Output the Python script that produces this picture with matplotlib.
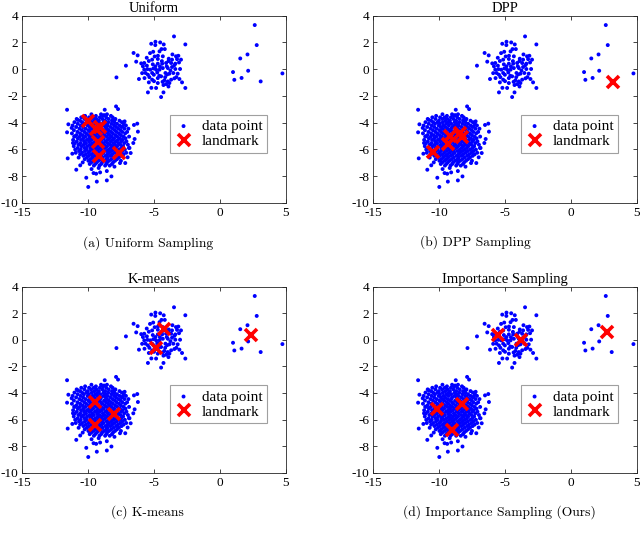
import matplotlib.pyplot as plt

plt.rcParams['font.family'] = 'Liberation Serif'
plt.rcParams['axes.unicode_minus'] = False

# data points (same cloud in all four panels)
small_cluster = [
    (2.65, 3.3), (2.8, 1.8), (2.1, 1.1), (1.55, 0.8), (2.15, -0.12),
    (1.0, -0.22), (1.1, -0.8), (1.65, -0.66), (3.1, -0.92), (4.75, -0.32),
]

mid_cluster = [
    (-3.48, 2.45), (-2.62, 1.85), (-4.89, 2.05), (-5.21, 1.90), (-4.53, 2.00),
    (-4.43, 1.50), (-4.18, 1.50), (-5.06, 1.30), (-6.55, 1.21), (-6.24, 1.03),
    (-7.13, 0.26), (-7.85, -0.62), (-6.35, 0.56), (-5.97, 0.43), (-5.74, 0.46),
    (-5.39, 0.61), (-5.14, 0.71), (-4.71, 0.76), (-4.33, 0.96), (-3.88, 0.78),
    (-3.63, 0.71), (-3.33, 0.96), (-3.15, 1.00), (-2.95, 0.71), (-3.38, 0.41),
    (-3.70, 0.46), (-4.08, 0.46), (-4.38, 0.41), (-4.71, 0.41), (-5.09, 0.36),
    (-5.54, 0.26), (-5.84, 0.21), (-5.74, -0.04), (-5.64, -0.29), (-5.46, -0.42),
    (-5.14, -0.29), (-4.84, -0.04), (-4.58, -0.04), (-4.33, 0.08), (-3.95, 0.08),
    (-3.63, 0.16), (-3.38, 0.01), (-3.02, 0.01), (-5.72, -0.67), (-5.39, -0.99),
    (-5.14, -0.79), (-4.71, -0.67), (-4.46, -0.54), (-4.21, -0.84), (-3.95, -0.92),
    (-3.70, -0.79), (-3.45, -0.69), (-3.07, -0.74), (-2.87, -0.99), (-2.62, -1.41),
    (-6.14, -0.74), (-5.46, -1.74), (-4.28, -1.74), (-4.46, -2.09), (-4.84, -1.41),
    (-4.08, -1.12), (-3.83, -1.04), (-4.28, -1.19), (-4.71, -1.04), (-5.01, -0.42),
    (-5.29, -0.04), (-4.89, 0.21), (-4.13, -0.29), (-3.83, -0.34), (-3.53, -0.29),
    (-3.20, -0.34), (-4.58, 1.33), (-4.26, 1.85), (-4.03, 0.21), (-4.9, 1.8),
    (-5.5, 0.0), (-3.9, 0.6), (-4.4, 0.6), (-5.0, -0.9), (-3.3, -0.6),
    (-4.6, -0.5), (-3.6, 1.1), (-5.3, 1.2), (-4.0, -0.4), (-5.9, -0.3),
    (-3.1, 0.5), (-4.7, 1.0), (-3.9, -1.3), (-5.2, -1.4), (-4.95, 0.95),
    (-5.55, 0.85), (-3.45, 0.3), (-4.15, -0.6), (-5.35, -0.6), (-3.75, -0.1),
    (-4.55, 0.2), (-5.05, 0.05), (-3.25, 0.75), (-4.35, -0.95), (-4.75, -0.25),
]

big_outer = [
    (-11.60, -3.04), (-7.88, -2.79), (-7.73, -2.99), (-8.74, -3.04), (-8.79, -3.44),
    (-11.50, -4.13), (-11.60, -4.73), (-6.27, -4.08), (-6.52, -4.18), (-6.22, -4.68),
    (-6.47, -5.23), (-6.57, -5.53), (-6.77, -6.28), (-7.18, -7.03), (-7.58, -7.03),
    (-11.55, -6.68), (-11.20, -6.33), (-10.90, -7.53), (-10.14, -8.13), (-9.74, -7.48),
    (-9.59, -7.78), (-9.39, -7.83), (-9.99, -8.82), (-8.58, -8.33), (-8.23, -8.03),
    (-9.34, -8.42), (-8.58, -7.63), (-9.09, -7.73), (-11.0, -5.03), (-11.15, -5.53),
    (-7.23, -3.91), (-7.38, -4.28), (-7.98, -3.78), (-10.8, -3.8), (-11.25, -4.4),
    (-6.9, -5.9), (-7.0, -6.6), (-10.6, -7.2), (-9.2, -7.4), (-8.0, -7.3),
]

# dense core of the big cluster, one row of x values per y level
big_core_rows = {
    -3.38: [-9.75, -9.02, -8.57],
    -3.5: [-10.23, -9.41, -8.88, -8.27],
    -3.61: [-10.52, -9.93, -9.58, -9.11, -8.63, -8.14],
    -3.73: [-10.87, -10.28, -9.77, -9.37, -8.92, -8.44, -7.93],
    -3.86: [-10.61, -10.02, -9.53, -9.18, -8.71, -8.19, -7.62],
    -3.97: [-11.04, -10.46, -10.13, -9.72, -9.28, -8.83, -8.47, -8.01, -7.44],
    -4.09: [-10.79, -10.32, -9.94, -9.47, -9.08, -8.66, -8.23, -7.81, -7.29],
    -4.22: [-11.18, -10.57, -10.04, -9.68, -9.27, -8.84, -8.52, -8.03, -7.61, -7.13],
    -4.33: [-10.91, -10.38, -9.88, -9.54, -9.01, -8.68, -8.31, -7.88, -7.46],
    -4.46: [-10.66, -10.19, -9.76, -9.36, -9.09, -8.57, -8.13, -7.71, -7.24, -6.94],
    -4.57: [-11.08, -10.47, -9.98, -9.61, -9.19, -8.79, -8.42, -7.97, -7.53],
    -4.7: [-10.81, -10.29, -9.86, -9.43, -9.02, -8.64, -8.26, -7.84, -7.41, -7.04],
    -4.81: [-11.23, -10.61, -10.14, -9.71, -9.29, -8.91, -8.49, -8.12, -7.66, -7.19],
    -4.94: [-10.89, -10.41, -9.96, -9.53, -9.16, -8.74, -8.36, -7.94, -7.51],
    -5.05: [-11.06, -10.63, -10.21, -9.79, -9.39, -9.01, -8.58, -8.21, -7.78, -7.31, -6.89],
    -5.18: [-10.78, -10.36, -9.93, -9.62, -9.18, -8.81, -8.39, -8.02, -7.58, -7.16],
    -5.3: [-11.14, -10.54, -10.09, -9.76, -9.33, -8.96, -8.54, -8.16, -7.74, -7.38],
    -5.41: [-10.86, -10.31, -9.91, -9.48, -9.12, -8.69, -8.29, -7.91, -7.49, -7.09],
    -5.54: [-11.01, -10.59, -10.16, -9.69, -9.31, -8.88, -8.51, -8.09, -7.71, -7.26],
    -5.66: [-10.74, -10.34, -9.89, -9.56, -9.14, -8.76, -8.33, -7.96, -7.54, -6.98],
    -5.77: [-11.09, -10.51, -10.08, -9.72, -9.28, -8.94, -8.56, -8.14, -7.79, -7.34],
    -5.9: [-10.79, -10.28, -9.84, -9.46, -9.06, -8.71, -8.28, -7.89, -7.48, -6.86],
    -6.02: [-10.98, -10.56, -10.11, -9.64, -9.24, -8.86, -8.44, -8.06, -7.63, -7.21],
    -6.13: [-10.69, -10.24, -9.86, -9.41, -9.01, -8.59, -8.21, -7.82, -7.39],
    -6.26: [-10.94, -10.46, -9.99, -9.61, -9.19, -8.82, -8.41, -7.99, -7.56, -7.11],
    -6.38: [-10.61, -10.18, -9.74, -9.36, -8.96, -8.53, -8.17, -7.73, -7.31],
    -6.49: [-10.36, -9.94, -9.51, -9.11, -8.68, -8.31, -7.88, -7.46],
    -6.62: [-10.72, -10.09, -9.69, -9.31, -8.89, -8.52, -8.08, -7.66],
    -6.74: [-10.26, -9.84, -9.44, -9.04, -8.61, -8.24, -7.81],
    -6.86: [-9.98, -9.59, -9.21, -8.79, -8.41, -7.96, -7.51],
    -6.98: [-10.41, -9.76, -9.34, -8.94, -8.56, -8.11],
    -7.1: [-9.88, -9.46, -9.01, -8.62, -8.19],
    -7.22: [-9.56, -9.14, -8.71, -8.36],
}

# landmarks picked by each method
uniform_lm = [(-10.0, -3.9), (-9.4, -4.5), (-9.1, -4.35), (-9.25, -5.45),
              (-9.15, -6.5), (-7.65, -6.3)]
dpp_lm = [(-10.45, -6.2), (-9.3, -5.6), (-9.15, -5.0), (-8.45, -4.8),
          (-8.3, -5.1), (3.2, -0.95)]
kmeans_lm = [(-4.25, 0.8), (-4.85, -0.65), (2.35, 0.4), (-9.5, -4.65),
             (-8.0, -5.6), (-9.5, -6.4)]
importance_lm = [(-5.5, 0.35), (-3.8, 0.0), (2.75, 0.6), (-10.15, -5.2),
                 (-8.3, -4.85), (-9.0, -6.8)]

titles = ["Uniform", "DPP", "K-means", "Importance Sampling"]
captions = ["(a) Uniform Sampling", "(b) DPP Sampling", "(c) K-means",
            "(d) Importance Sampling (Ours)"]
landmarks = [uniform_lm, dpp_lm, kmeans_lm, importance_lm]

data_x = [p[0] for p in small_cluster + mid_cluster + big_outer]
data_y = [p[1] for p in small_cluster + mid_cluster + big_outer]
for yv, xs in big_core_rows.items():
    data_x += xs
    data_y += [yv] * len(xs)

fig = plt.figure(figsize=(6.4, 5.38), dpi=100)
axes_rects = [
    [0.0348, 0.6232, 0.4116, 0.3476],
    [0.5833, 0.6232, 0.4116, 0.3476],
    [0.0348, 0.1214, 0.4116, 0.3457],
    [0.5833, 0.1214, 0.4116, 0.3457],
]
caption_pos = [(0.231, 0.548), (0.743, 0.550), (0.230, 0.048), (0.781, 0.048)]

for i in range(4):
    ax = fig.add_axes(axes_rects[i])
    ax.scatter(data_x, data_y, s=8, c='#0000ff', marker='o',
               edgecolors='none', label='data point', zorder=2)
    lx = [p[0] for p in landmarks[i]]
    ly = [p[1] for p in landmarks[i]]
    ax.plot(lx, ly, linestyle='none', marker='x', color='#ff0000',
            markersize=8, markeredgewidth=2.6, label='landmark', zorder=3)

    ax.set_xlim(-15, 5)
    ax.set_ylim(-10, 4)
    ax.set_xticks([-15, -10, -5, 0, 5])
    ax.set_yticks(range(-10, 5, 2))
    ax.tick_params(direction='in', top=True, right=True, length=3,
                   width=0.6, color='#262626', labelsize=9.5, pad=3)
    for sp in ax.spines.values():
        sp.set_color('#262626')
        sp.set_linewidth(0.6)
    ax.set_title(titles[i], fontsize=10.5, pad=3)

    leg = ax.legend(loc='upper left', bbox_to_anchor=(0.56, 0.47),
                    borderaxespad=0, fancybox=False, framealpha=1,
                    edgecolor='#a0a0a0', fontsize=11, handlelength=1.2,
                    handletextpad=0.6, borderpad=0.3, labelspacing=0.1,
                    markerscale=1.0)
    leg.get_frame().set_linewidth(0.8)

    fig.text(caption_pos[i][0], caption_pos[i][1], captions[i],
             family='cmr10', fontsize=9.7, ha='center', va='center')

fig.savefig('out.png', dpi=100)
